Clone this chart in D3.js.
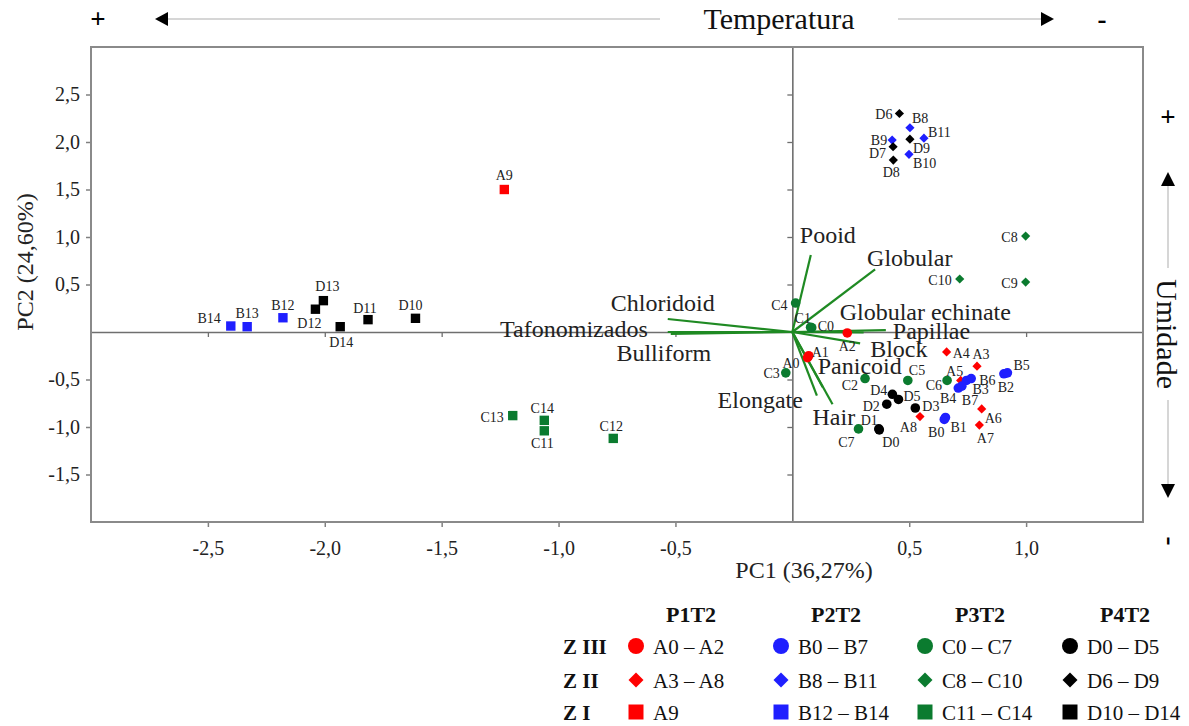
<!DOCTYPE html>
<html lang="pt">
<head>
<meta charset="UTF-8">
<title>PCA</title>
<script src="https://cdn.jsdelivr.net/npm/d3@7"></script>
<style>
    body { margin: 0; background: #fff; }
    svg text { font-family: 'Liberation Serif', 'Times New Roman', serif; }
</style>
</head>
<body>
<div id="chart"></div>
<script>
    // sample scores
    const sampleNames = ["A0","A1","A2","A3","A4","A5","A6","A7","A8","A9",
        "B0","B1","B2","B3","B4","B5","B6","B7","B8","B9","B10","B11","B12","B13","B14",
        "C0","C1","C2","C3","C4","C5","C6","C7","C8","C9","C10","C11","C12","C13","C14",
        "D0","D1","D2","D3","D4","D5","D6","D7","D8","D9","D10","D11","D12","D13","D14"];
    const pc1 = [0.065,0.07,0.235,0.79,0.66,0.72,0.81,0.80,0.546,-1.232,
        0.65,0.655,0.905,0.745,0.71,0.92,0.765,0.725,0.503,0.427,0.499,0.563,-2.179,-2.332,-2.402,
        0.083,0.078,0.311,-0.028,0.014,0.494,0.662,0.283,0.998,0.998,0.716,-1.061,-0.766,-1.196,-1.061,
        0.372,0.37,0.404,0.526,0.428,0.454,0.458,0.431,0.432,0.503,-1.612,-1.815,-2.04,-2.006,-1.934];
    const pc2 = [-0.27,-0.25,-0.01,-0.36,-0.21,-0.51,-0.81,-0.98,-0.89,1.50,
        -0.92,-0.90,-0.44,-0.51,-0.59,-0.43,-0.49,-0.57,2.15,2.02,1.87,2.04,0.15,0.056,0.063,
        0.045,0.05,-0.49,-0.43,0.305,-0.51,-0.51,-1.02,1.01,0.526,0.558,-1.04,-1.12,-0.88,-0.93,
        -1.03,-1.02,-0.76,-0.80,-0.656,-0.71,2.30,1.95,1.81,2.03,0.144,0.13,0.24,0.33,0.056];

    // loadings
    const loadingNames = ["Pooid","Globular","Chloridoid","Globular echinate","Tafonomizados",
        "Bulliform","Papillae","Block","Panicoid","Elongate","Hair"];
    const loadX = [0.079,0.354,-0.533,0.305,-0.533,-0.52,0.40,0.29,0.13,0.105,0.172];
    const loadY = [0.81,0.66,0.137,-0.005,0.0,-0.02,0.02,-0.12,-0.58,-0.67,-0.76];

    // groups
    const plots = ["P1T2","P2T2","P3T2","P4T2"];
    const plotLetters = ["A","B","C","D"];
    const plotColors = ["#ff0000","#1f1fff","#0b7b2f","#000000"];
    const zones = ["Z III","Z II","Z I"];
    const zoneShapes = ["circle","diamond","square"];
    const zoneLast = [[2,7,7,5],[8,11,10,9],[9,14,14,14]];

    const xTicks = [-2.5,-2,-1.5,-1,-0.5,0.5,1];
    const yTicks = [-1.5,-1,-0.5,0.5,1,1.5,2,2.5];

    // label placement [dx, dy, anchor]
    const labelPos = {
        A0:[-8,10,"end"], A1:[3,1,"start"], A2:[0,18,"middle"], A3:[4,-7,"middle"], A4:[6,6,"start"],
        A5:[-6,-4,"middle"], A6:[3,14,"start"], A7:[6,18,"middle"], A8:[-3,15,"end"], A9:[0,-10,"middle"],
        B0:[-8,18,"middle"], B1:[5,14,"start"], B2:[2,18,"middle"], B3:[6,14,"start"], B4:[-2,15,"end"],
        B5:[6,-3,"start"], B6:[8,6,"start"], B7:[0,19,"start"], B8:[2,-5,"start"], B9:[-5,5,"end"],
        B10:[4,14,"start"], B11:[4,-1,"start"], B12:[0,-8,"middle"], B13:[0,-9,"middle"], B14:[-10,-3,"end"],
        C0:[6,3,"start"], C1:[-16,-4,"start"], C2:[-7,11,"end"], C3:[-6,5,"end"], C4:[-8,7,"end"],
        C5:[1,-5,"start"], C6:[-5,10,"end"], C7:[-4,18,"end"], C8:[-8,6,"end"], C9:[-8,6,"end"],
        C10:[-8,6,"end"], C11:[-2,17,"middle"], C12:[-2,-7,"middle"], C13:[-9,6,"end"], C14:[-2,-7,"middle"],
        D0:[3,17,"start"], D1:[-1,-4,"end"], D2:[-7,7,"end"], D3:[7,3,"start"], D4:[-5,1,"end"],
        D5:[5,2,"start"], D6:[-7,5,"end"], D7:[-7,11,"end"], D8:[-2,17,"middle"], D9:[3,14,"start"],
        D10:[-5,-8,"middle"], D11:[-3,-7,"middle"], D12:[-6,19,"middle"], D13:[4,-10,"middle"], D14:[1,20,"middle"]
    };
    const loadLabelPos = {
        "Pooid":[-11,-12,"start"], "Globular":[-8,-3,"start"], "Chloridoid":[-5,-8,"middle"],
        "Globular echinate":[-24,-12,"start"], "Tafonomizados":[-20,5,"end"], "Bulliform":[-7,27,"middle"],
        "Papillae":[7,9,"start"], "Block":[10,14,"start"], "Panicoid":[-5,-13,"start"],
        "Elongate":[-14,12,"end"], "Hair":[-20,21,"start"]
    };

    const W = 1189, H = 726;
    const svg = d3.select("#chart").append("svg").attr("width", W).attr("height", H);

    const x = d3.scaleLinear().domain([-3, 1.5]).range([91, 1143]);
    const y = d3.scaleLinear().domain([-2, 3]).range([522, 47]);
    const fmt = v => v.toFixed(1).replace(".", ",");

    function shapePath(shape, r) {
        if (shape === "circle") return d3.symbol(d3.symbolCircle, Math.PI * r * r)();
        if (shape === "square") return d3.symbol(d3.symbolSquare, 4 * r * r)();
        return `M0,${-r}L${r},0L0,${r}L${-r},0Z`;
    }

    // axes on the frame
    const gx = svg.append("g").attr("transform", `translate(0,${y.range()[0]})`)
        .call(d3.axisBottom(x).tickValues(xTicks).tickFormat(fmt).tickSize(5).tickPadding(14).tickSizeOuter(0));
    const gy = svg.append("g").attr("transform", `translate(${x.range()[0]},0)`)
        .call(d3.axisLeft(y).tickValues(yTicks).tickFormat(fmt).tickSize(5).tickPadding(6).tickSizeOuter(0));
    [gx, gy].forEach(g => {
        g.select(".domain").remove();
        g.selectAll("line").attr("stroke", "#808080").attr("stroke-width", 1.5);
        g.selectAll("text").attr("font-size", 20).attr("fill", "#222")
            .style("font-family", "'Liberation Serif', serif");
    });

    // zero lines with inner ticks
    const zx = svg.append("g").attr("transform", `translate(0,${y(0)})`)
        .call(d3.axisBottom(x).tickValues(xTicks).tickFormat("").tickSize(5).tickSizeOuter(0));
    const zy = svg.append("g").attr("transform", `translate(${x(0)},0)`)
        .call(d3.axisLeft(y).tickValues(yTicks).tickFormat("").tickSize(5).tickSizeOuter(0));
    [zx, zy].forEach(g => {
        g.select(".domain").attr("stroke", "#6f6f6f").attr("stroke-width", 1.6);
        g.selectAll("line").attr("stroke", "#6f6f6f").attr("stroke-width", 1.3);
    });

    // frame
    svg.append("rect")
        .attr("x", x.range()[0]).attr("y", y.range()[1])
        .attr("width", x.range()[1] - x.range()[0]).attr("height", y.range()[0] - y.range()[1])
        .attr("fill", "none").attr("stroke", "#8a8a8a").attr("stroke-width", 2);

    // axis titles
    svg.append("text").attr("x", 804).attr("y", 578).attr("text-anchor", "middle")
        .attr("font-size", 24).attr("fill", "#222").text("PC1 (36,27%)");
    svg.append("text").attr("transform", "translate(33,262) rotate(-90)").attr("text-anchor", "middle")
        .attr("font-size", 24).attr("fill", "#222").text("PC2 (24,60%)");

    // loading vectors
    const loadings = loadingNames.map((n, i) => ({ name: n, x: loadX[i], y: loadY[i] }));
    svg.append("g").selectAll("line").data(loadings).enter().append("line")
        .attr("x1", x(0)).attr("y1", y(0))
        .attr("x2", d => x(d.x)).attr("y2", d => y(d.y))
        .attr("stroke", "#1f8a23").attr("stroke-width", 2.2);

    // samples
    const samples = sampleNames.map((n, i) => {
        const p = plotLetters.indexOf(n[0]);
        const num = +n.slice(1);
        const z = zoneLast.findIndex(row => num <= row[p]);
        return { name: n, x: pc1[i], y: pc2[i], color: plotColors[p], shape: zoneShapes[z] };
    });
    const sizeFor = { circle: 4.8, diamond: 4.6, square: 4.7 };
    svg.append("g").selectAll("path").data(samples).enter().append("path")
        .attr("transform", d => `translate(${x(d.x)},${y(d.y)})`)
        .attr("d", d => shapePath(d.shape, sizeFor[d.shape]))
        .attr("fill", d => d.color);

    svg.append("g").selectAll("text").data(samples).enter().append("text")
        .attr("x", d => x(d.x) + labelPos[d.name][0])
        .attr("y", d => y(d.y) + labelPos[d.name][1])
        .attr("text-anchor", d => labelPos[d.name][2])
        .attr("font-size", 14).attr("fill", "#222")
        .text(d => d.name);

    svg.append("g").selectAll("text").data(loadings).enter().append("text")
        .attr("x", d => x(d.x) + loadLabelPos[d.name][0])
        .attr("y", d => y(d.y) + loadLabelPos[d.name][1])
        .attr("text-anchor", d => loadLabelPos[d.name][2])
        .attr("font-size", 24).attr("fill", "#222")
        .text(d => d.name);

    // temperature arrow (top)
    const gray = "#c8c8c8";
    svg.append("text").attr("x", 98).attr("y", 28).attr("text-anchor", "middle")
        .attr("font-size", 27).attr("font-weight", "bold").text("+");
    svg.append("text").attr("x", 1102).attr("y", 28).attr("text-anchor", "middle")
        .attr("font-size", 27).attr("font-weight", "bold").text("-");
    svg.append("line").attr("x1", 166).attr("x2", 660).attr("y1", 19).attr("y2", 19)
        .attr("stroke", gray).attr("stroke-width", 1.5);
    svg.append("line").attr("x1", 898).attr("x2", 1042).attr("y1", 19).attr("y2", 19)
        .attr("stroke", gray).attr("stroke-width", 1.5);
    svg.append("path").attr("d", "M155,19L168,12L168,26Z").attr("fill", "#000");
    svg.append("path").attr("d", "M1054,19L1041,12L1041,26Z").attr("fill", "#000");
    svg.append("text").attr("x", 779).attr("y", 29).attr("text-anchor", "middle")
        .attr("font-size", 30).attr("fill", "#111").text("Temperatura");

    // humidity arrow (right)
    svg.append("text").attr("x", 1168).attr("y", 126).attr("text-anchor", "middle")
        .attr("font-size", 27).attr("font-weight", "bold").text("+");
    svg.append("text").attr("transform", "translate(1162,541) rotate(90)").attr("text-anchor", "middle")
        .attr("font-size", 27).attr("font-weight", "bold").text("-");
    svg.append("line").attr("x1", 1168).attr("x2", 1168).attr("y1", 185).attr("y2", 268)
        .attr("stroke", gray).attr("stroke-width", 1.5);
    svg.append("line").attr("x1", 1168).attr("x2", 1168).attr("y1", 400).attr("y2", 485)
        .attr("stroke", gray).attr("stroke-width", 1.5);
    svg.append("path").attr("d", "M1168,172L1161,186L1175,186Z").attr("fill", "#000");
    svg.append("path").attr("d", "M1168,498L1161,484L1175,484Z").attr("fill", "#000");
    svg.append("text").attr("transform", "translate(1157,334) rotate(90)").attr("text-anchor", "middle")
        .attr("font-size", 30).attr("fill", "#111").text("Umidade");

    // legend
    const legTextX = [653, 798, 942, 1087];
    const legRowY = [646, 680, 712];
    const leg = svg.append("g");
    plots.forEach((p, i) => {
        leg.append("text").attr("x", legTextX[i] + 38).attr("y", 622).attr("text-anchor", "middle")
            .attr("font-size", 22).attr("font-weight", "bold").attr("fill", "#111").text(p);
    });
    zones.forEach((z, j) => {
        leg.append("text").attr("x", 563).attr("y", legRowY[j] + 8)
            .attr("font-size", 21).attr("font-weight", "bold").attr("fill", "#111").text(z);
        plots.forEach((p, i) => {
            const last = zoneLast[j][i];
            const first = j === 0 ? 0 : zoneLast[j - 1][i] + 1;
            const L = plotLetters[i];
            const label = first === last ? `${L}${first}` : `${L}${first} – ${L}${last}`;
            const shape = zoneShapes[j];
            leg.append("path")
                .attr("transform", `translate(${legTextX[i] - 17},${legRowY[j]})`)
                .attr("d", shapePath(shape, shape === "circle" ? 8 : 7.5))
                .attr("fill", plotColors[i]);
            leg.append("text").attr("x", legTextX[i]).attr("y", legRowY[j] + 8)
                .attr("font-size", 21).attr("fill", "#111").text(label);
        });
    });
</script>
</body>
</html>
